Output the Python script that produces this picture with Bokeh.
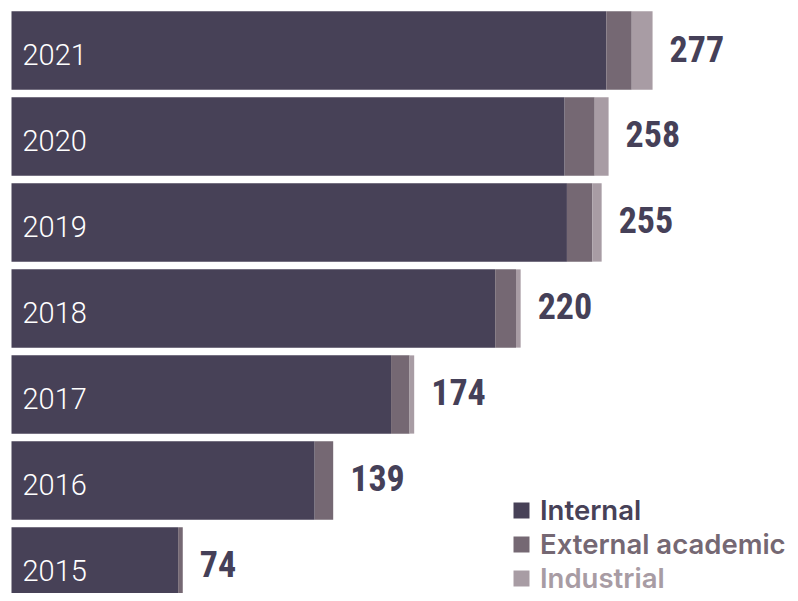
from bokeh.plotting import figure
from bokeh.models import Range1d, ColumnDataSource, Legend, LegendItem
from bokeh.core.properties import value
from bokeh.embed import file_html
from bokeh.resources import INLINE

years = ["2015", "2016", "2017", "2018", "2019", "2020", "2021"]
internal = [72, 131, 164, 209, 240, 239, 257]
external = [2, 8, 8, 9, 11, 13, 11]
industrial = [0, 0, 2, 2, 4, 6, 9]
totals = [74, 139, 174, 220, 255, 258, 277]
series = ["Internal", "External academic", "Industrial"]
colors = ["#474157", "#756873", "#a89ca4"]

idx = list(range(len(years)))
src = ColumnDataSource(dict(
    y=idx, year=years, internal=internal, external=external,
    industrial=industrial, total=totals,
    total_lbl=[str(t) for t in totals],
))

p = figure(width=790, height=593, output_backend="svg", toolbar_location=None,
           x_range=Range1d(-4.754, 336.6), y_range=Range1d(-0.314, 6.5814),
           min_border=0, outline_line_color=None)
p.axis.visible = False
p.grid.visible = False

rs = p.hbar_stack(["internal", "external", "industrial"], y="y", height=0.91,
                  color=colors, source=src, line_width=0)

p.text(x=0, y="y", text="year", source=src, x_offset=11, y_offset=4,
       text_baseline="middle", text_align="left", text_color="white",
       text_font=value("Roboto Light"), text_font_size="29px")

p.text(x="total", y="y", text="total_lbl", source=src, x_offset=17, y_offset=-2,
       text_baseline="middle", text_align="left", text_color="#454058",
       text_font=value("Roboto Condensed"), text_font_style="bold",
       text_font_size="36px")

for i, (name, col, r) in enumerate(zip(series, colors, rs)):
    lg = Legend(items=[LegendItem(label=name, renderers=[r])],
                location=(511, 66.5 - 34 * i),
                glyph_width=20, glyph_height=20, label_standoff=9,
                label_text_font="Inter SemiBold", label_text_font_size="27.5px",
                label_text_color=col,
                border_line_alpha=0, background_fill_alpha=0,
                padding=0, margin=0, spacing=0, label_height=20)
    p.add_layout(lg)

open("out.html", "w").write(file_html(p, INLINE))
